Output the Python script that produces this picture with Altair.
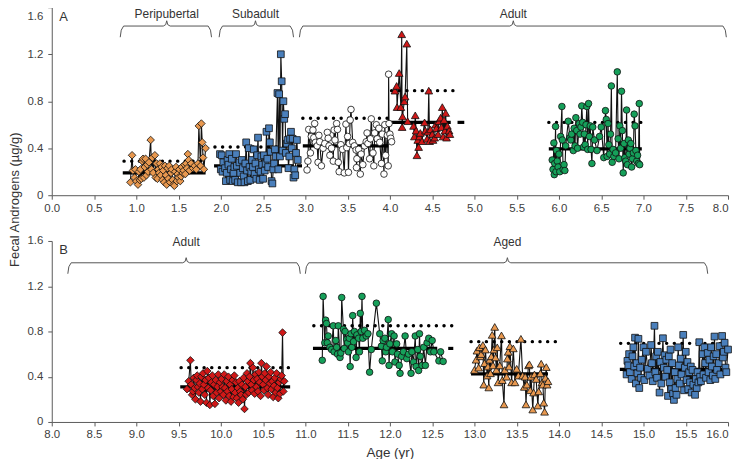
import altair as alt
import pandas as pd

FONT = "Liberation Sans"

orange_a = [(0.93,0.11),(0.95,0.34),(0.96,0.21),(0.98,0.15),(0.99,0.22),(1.00,0.12),(1.02,0.09),(1.03,0.20),(1.04,0.13),(1.05,0.22),(1.06,0.14),(1.07,0.29),(1.08,0.31),(1.09,0.15),(1.10,0.24),(1.11,0.31),(1.12,0.17),(1.13,0.26),(1.14,0.20),(1.15,0.28),(1.17,0.47),(1.18,0.22),(1.19,0.32),(1.20,0.19),(1.22,0.34),(1.23,0.15),(1.24,0.27),(1.25,0.14),(1.26,0.22),(1.27,0.19),(1.28,0.27),(1.29,0.17),(1.30,0.24),(1.31,0.13),(1.32,0.21),(1.33,0.11),(1.34,0.25),(1.35,0.17),(1.36,0.09),(1.37,0.23),(1.38,0.14),(1.39,0.25),(1.40,0.11),(1.41,0.19),(1.42,0.22),(1.43,0.13),(1.44,0.09),(1.45,0.08),(1.46,0.20),(1.47,0.24),(1.48,0.12),(1.49,0.18),(1.50,0.15),(1.51,0.22),(1.52,0.12),(1.53,0.16),(1.54,0.24),(1.55,0.19),(1.56,0.21),(1.57,0.26),(1.58,0.18),(1.59,0.27),(1.60,0.23),(1.61,0.35),(1.62,0.30),(1.63,0.21),(1.65,0.27),(1.67,0.23),(1.69,0.25),(1.71,0.22),(1.73,0.27),(1.74,0.59),(1.76,0.25),(1.77,0.61),(1.78,0.45),(1.79,0.32),(1.80,0.22),(1.82,0.40)]

blue_a = [(1.99,0.35),(2.00,0.22),(2.01,0.34),(2.02,0.20),(2.03,0.28),(2.05,0.23),(2.06,0.12),(2.07,0.19),(2.08,0.30),(2.09,0.26),(2.10,0.35),(2.11,0.13),(2.12,0.22),(2.13,0.31),(2.14,0.12),(2.15,0.19),(2.16,0.24),(2.17,0.13),(2.18,0.35),(2.19,0.25),(2.20,0.11),(2.22,0.28),(2.23,0.19),(2.24,0.11),(2.25,0.30),(2.26,0.23),(2.27,0.16),(2.28,0.11),(2.29,0.27),(2.30,0.45),(2.31,0.21),(2.32,0.12),(2.33,0.40),(2.34,0.24),(2.35,0.13),(2.36,0.20),(2.37,0.30),(2.38,0.24),(2.39,0.39),(2.40,0.18),(2.41,0.27),(2.42,0.14),(2.43,0.34),(2.44,0.49),(2.45,0.22),(2.46,0.13),(2.47,0.20),(2.48,0.33),(2.49,0.26),(2.50,0.14),(2.51,0.34),(2.52,0.21),(2.53,0.27),(2.54,0.54),(2.55,0.31),(2.56,0.24),(2.57,0.57),(2.58,0.45),(2.59,0.37),(2.60,0.12),(2.61,0.10),(2.62,0.22),(2.63,0.27),(2.64,0.39),(2.65,0.33),(2.67,0.87),(2.68,0.22),(2.69,0.86),(2.70,0.33),(2.71,1.20),(2.72,0.97),(2.73,0.38),(2.74,0.80),(2.75,0.65),(2.76,0.69),(2.77,0.36),(2.78,0.44),(2.79,0.47),(2.80,0.23),(2.81,0.33),(2.82,0.48),(2.83,0.54),(2.84,0.40),(2.85,0.48),(2.86,0.15),(2.87,0.22),(2.88,0.17),(2.89,0.36),(2.90,0.47),(2.91,0.30)]

white_a = [(3.02,0.215),(3.03,0.29),(3.04,0.56),(3.06,0.36),(3.07,0.50),(3.09,0.555),(3.10,0.49),(3.11,0.61),(3.12,0.45),(3.14,0.42),(3.15,0.28),(3.16,0.51),(3.17,0.455),(3.19,0.25),(3.21,0.40),(3.23,0.44),(3.26,0.535),(3.27,0.485),(3.28,0.42),(3.29,0.34),(3.31,0.40),(3.33,0.29),(3.34,0.555),(3.35,0.47),(3.37,0.61),(3.38,0.56),(3.39,0.28),(3.40,0.20),(3.42,0.43),(3.44,0.39),(3.46,0.19),(3.48,0.605),(3.49,0.405),(3.50,0.50),(3.51,0.195),(3.52,0.44),(3.53,0.64),(3.54,0.73),(3.56,0.45),(3.58,0.42),(3.60,0.385),(3.605,0.235),(3.61,0.31),(3.63,0.39),(3.65,0.18),(3.66,0.35),(3.68,0.26),(3.70,0.42),(3.72,0.455),(3.73,0.53),(3.74,0.44),(3.76,0.31),(3.77,0.48),(3.78,0.65),(3.80,0.36),(3.81,0.25),(3.82,0.53),(3.84,0.60),(3.85,0.48),(3.87,0.57),(3.88,0.45),(3.90,0.27),(3.91,0.52),(3.93,0.18),(3.94,0.60),(3.95,0.34),(3.97,0.51),(3.98,0.25),(3.985,1.03),(3.99,0.61),(4.00,0.52),(4.01,0.485),(4.02,0.455)]

red_a = [(4.06,0.89),(4.08,0.93),(4.085,0.75),(4.11,1.04),(4.13,0.75),(4.14,1.37),(4.145,0.58),(4.15,0.67),(4.17,0.80),(4.18,0.84),(4.20,1.29),(4.21,0.63),(4.28,0.59),(4.29,0.50),(4.30,0.68),(4.31,0.55),(4.32,0.34),(4.33,0.47),(4.34,0.41),(4.35,0.50),(4.36,0.53),(4.38,0.46),(4.41,0.62),(4.42,0.55),(4.44,0.48),(4.45,0.54),(4.46,0.89),(4.47,0.46),(4.48,0.56),(4.50,0.52),(4.51,0.47),(4.53,0.49),(4.54,0.60),(4.55,0.57),(4.57,0.52),(4.58,0.63),(4.60,0.66),(4.61,0.58),(4.62,0.75),(4.63,0.50),(4.64,0.64),(4.65,0.55),(4.66,0.70),(4.67,0.49),(4.68,0.59),(4.70,0.55),(4.71,0.52)]

green_a = [(5.92,0.30),(5.93,0.22),(5.94,0.445),(5.945,0.175),(5.95,0.27),(5.96,0.585),(5.965,0.20),(5.97,0.38),(5.98,0.29),(5.99,0.24),(6.00,0.35),(6.01,0.20),(6.02,0.50),(6.035,0.755),(6.04,0.47),(6.05,0.22),(6.06,0.26),(6.07,0.21),(6.08,0.42),(6.11,0.63),(6.13,0.49),(6.14,0.47),(6.15,0.52),(6.17,0.38),(6.18,0.57),(6.19,0.42),(6.20,0.66),(6.21,0.55),(6.22,0.40),(6.24,0.61),(6.25,0.52),(6.26,0.58),(6.27,0.76),(6.28,0.62),(6.29,0.41),(6.30,0.52),(6.31,0.43),(6.32,0.60),(6.33,0.755),(6.34,0.39),(6.35,0.78),(6.36,0.50),(6.37,0.59),(6.38,0.39),(6.39,0.27),(6.40,0.58),(6.42,0.47),(6.45,0.38),(6.48,0.50),(6.50,0.58),(6.53,0.32),(6.55,0.72),(6.56,0.645),(6.57,0.33),(6.58,0.61),(6.59,0.43),(6.60,0.35),(6.61,0.52),(6.62,0.93),(6.63,0.28),(6.64,0.39),(6.65,0.33),(6.67,0.36),(6.69,1.05),(6.70,0.48),(6.71,0.31),(6.72,0.59),(6.73,0.40),(6.74,0.885),(6.75,0.55),(6.76,0.19),(6.77,0.44),(6.78,0.32),(6.79,0.29),(6.80,0.725),(6.81,0.26),(6.82,0.47),(6.83,0.35),(6.84,0.40),(6.85,0.44),(6.86,0.24),(6.87,0.31),(6.88,0.36),(6.89,0.69),(6.90,0.59),(6.91,0.38),(6.92,0.29),(6.93,0.34),(6.94,0.27),(6.95,0.78),(6.955,0.26)]

red_b = [(9.60,0.29),(9.62,0.36),(9.64,0.545),(9.65,0.33),(9.66,0.24),(9.67,0.27),(9.68,0.39),(9.69,0.30),(9.70,0.20),(9.71,0.37),(9.72,0.41),(9.73,0.31),(9.74,0.26),(9.75,0.34),(9.76,0.18),(9.77,0.40),(9.78,0.29),(9.79,0.43),(9.80,0.33),(9.81,0.24),(9.82,0.37),(9.83,0.17),(9.84,0.45),(9.85,0.30),(9.86,0.39),(9.87,0.15),(9.88,0.28),(9.89,0.35),(9.90,0.41),(9.91,0.23),(9.92,0.33),(9.93,0.16),(9.94,0.37),(9.95,0.26),(9.96,0.31),(9.97,0.42),(9.98,0.21),(9.99,0.35),(10.00,0.27),(10.01,0.38),(10.02,0.31),(10.03,0.24),(10.04,0.42),(10.05,0.30),(10.06,0.19),(10.07,0.36),(10.08,0.27),(10.09,0.40),(10.10,0.23),(10.11,0.33),(10.12,0.18),(10.13,0.29),(10.14,0.37),(10.15,0.22),(10.16,0.41),(10.17,0.26),(10.18,0.35),(10.19,0.21),(10.20,0.30),(10.21,0.17),(10.22,0.36),(10.23,0.27),(10.24,0.24),(10.25,0.33),(10.26,0.20),(10.27,0.39),(10.28,0.115),(10.29,0.31),(10.30,0.24),(10.31,0.43),(10.32,0.36),(10.33,0.26),(10.34,0.40),(10.35,0.52),(10.36,0.33),(10.37,0.28),(10.38,0.48),(10.39,0.37),(10.40,0.25),(10.41,0.42),(10.42,0.31),(10.43,0.38),(10.44,0.27),(10.45,0.44),(10.46,0.35),(10.47,0.23),(10.48,0.52),(10.49,0.40),(10.50,0.33),(10.51,0.28),(10.52,0.43),(10.53,0.37),(10.54,0.49),(10.55,0.30),(10.56,0.24),(10.57,0.40),(10.58,0.34),(10.59,0.44),(10.60,0.29),(10.61,0.36),(10.62,0.22),(10.63,0.32),(10.64,0.39),(10.65,0.26),(10.66,0.43),(10.67,0.30),(10.68,0.21),(10.69,0.35),(10.70,0.25),(10.71,0.38),(10.72,0.41),(10.73,0.79),(10.74,0.27),(10.75,0.36)]

green_b = [(11.20,0.545),(11.21,1.11),(11.23,0.70),(11.24,0.90),(11.25,0.87),(11.26,0.70),(11.27,0.76),(11.29,0.66),(11.31,0.64),(11.33,0.85),(11.34,0.62),(11.36,0.72),(11.37,0.66),(11.38,0.60),(11.39,0.85),(11.41,0.57),(11.42,0.61),(11.43,1.10),(11.45,0.82),(11.46,0.65),(11.47,0.80),(11.49,0.73),(11.50,0.70),(11.51,0.62),(11.52,0.74),(11.53,0.49),(11.54,0.78),(11.55,0.66),(11.56,0.94),(11.57,0.71),(11.58,0.80),(11.60,0.57),(11.61,0.77),(11.63,0.74),(11.64,0.62),(11.65,0.96),(11.66,0.80),(11.67,1.11),(11.68,0.74),(11.70,0.81),(11.72,0.76),(11.74,0.78),(11.76,0.44),(11.78,0.64),(11.84,1.05),(11.88,0.78),(11.90,0.67),(11.91,0.54),(11.92,0.72),(11.94,0.74),(11.95,0.62),(11.96,0.66),(11.98,0.905),(11.99,0.50),(12.00,0.69),(12.02,0.78),(12.03,0.62),(12.05,0.76),(12.06,0.53),(12.08,0.69),(12.09,0.60),(12.11,0.50),(12.12,0.43),(12.14,0.58),(12.16,0.62),(12.18,0.76),(12.20,0.56),(12.22,0.60),(12.25,0.43),(12.26,0.62),(12.28,0.53),(12.30,0.76),(12.31,0.49),(12.33,0.64),(12.34,0.455),(12.35,0.78),(12.36,0.58),(12.38,0.50),(12.40,0.66),(12.42,0.50),(12.44,0.70),(12.46,0.74),(12.48,0.62),(12.50,0.72),(12.52,0.62),(12.58,0.54),(12.60,0.62),(12.63,0.535)]

orange_b = [(13.00,0.46),(13.02,0.55),(13.03,0.63),(13.05,0.48),(13.06,0.66),(13.07,0.58),(13.08,0.60),(13.10,0.68),(13.11,0.33),(13.12,0.52),(13.13,0.64),(13.15,0.41),(13.16,0.49),(13.17,0.305),(13.18,0.55),(13.19,0.43),(13.20,0.58),(13.21,0.77),(13.22,0.50),(13.23,0.64),(13.24,0.84),(13.25,0.57),(13.26,0.46),(13.27,0.66),(13.28,0.35),(13.30,0.50),(13.32,0.765),(13.33,0.37),(13.35,0.155),(13.36,0.46),(13.38,0.40),(13.39,0.56),(13.40,0.62),(13.41,0.49),(13.42,0.67),(13.44,0.35),(13.46,0.65),(13.48,0.35),(13.50,0.47),(13.52,0.41),(13.55,0.735),(13.57,0.41),(13.59,0.31),(13.60,0.40),(13.61,0.155),(13.62,0.33),(13.64,0.50),(13.65,0.51),(13.66,0.28),(13.67,0.40),(13.69,0.11),(13.70,0.26),(13.71,0.42),(13.73,0.38),(13.75,0.145),(13.76,0.27),(13.78,0.43),(13.79,0.515),(13.80,0.35),(13.81,0.33),(13.82,0.17),(13.83,0.09),(13.84,0.39),(13.85,0.485),(13.86,0.33),(13.87,0.36)]

blue_b = [(14.80,0.42),(14.81,0.54),(14.82,0.50),(14.83,0.60),(14.84,0.44),(14.86,0.38),(14.87,0.58),(14.88,0.66),(14.89,0.49),(14.90,0.745),(14.91,0.34),(14.92,0.52),(14.93,0.43),(14.94,0.735),(14.95,0.30),(14.96,0.48),(14.97,0.39),(14.98,0.55),(15.00,0.66),(15.01,0.37),(15.03,0.62),(15.05,0.47),(15.07,0.41),(15.09,0.68),(15.10,0.52),(15.11,0.36),(15.13,0.85),(15.14,0.44),(15.15,0.58),(15.16,0.39),(15.17,0.62),(15.19,0.26),(15.20,0.53),(15.21,0.34),(15.23,0.74),(15.24,0.48),(15.25,0.59),(15.26,0.40),(15.27,0.55),(15.28,0.46),(15.29,0.23),(15.30,0.58),(15.31,0.35),(15.32,0.64),(15.33,0.29),(15.34,0.52),(15.35,0.25),(15.36,0.195),(15.37,0.44),(15.38,0.30),(15.39,0.24),(15.40,0.38),(15.41,0.66),(15.42,0.50),(15.43,0.34),(15.44,0.56),(15.45,0.42),(15.47,0.77),(15.48,0.28),(15.49,0.48),(15.50,0.62),(15.51,0.37),(15.52,0.53),(15.53,0.29),(15.54,0.44),(15.55,0.35),(15.56,0.49),(15.57,0.26),(15.58,0.46),(15.59,0.33),(15.61,0.24),(15.62,0.38),(15.63,0.30),(15.64,0.44),(15.65,0.35),(15.66,0.705),(15.67,0.40),(15.68,0.36),(15.70,0.60),(15.71,0.42),(15.72,0.66),(15.73,0.52),(15.74,0.39),(15.76,0.61),(15.77,0.44),(15.78,0.55),(15.79,0.37),(15.80,0.66),(15.81,0.49),(15.82,0.41),(15.83,0.58),(15.84,0.755),(15.85,0.38),(15.86,0.60),(15.87,0.46),(15.89,0.52),(15.90,0.67),(15.91,0.42),(15.93,0.76),(15.94,0.57),(15.95,0.62),(15.96,0.70),(15.97,0.48),(15.98,0.44),(16.00,0.64)]

# points, shape, fill, mean segments (start, end, value), dotted (start, end, value)
panel_a_series = [
    (orange_a, "diamond", "#E8984F", [(0.84, 1.82, 0.19)], (0.855, 1.84, 0.29)),
    (blue_a, "square", "#4A7FBB", [(1.92, 2.86, 0.25), (2.90, 2.96, 0.25)], (1.93, 2.92, 0.41)),
    (white_a, "circle", "#FFFFFF", [(2.97, 3.98, 0.42)], (2.97, 4.00, 0.655)),
    (red_a, "triangle-up", "#D01818", [(4.00, 4.72, 0.62), (4.80, 4.88, 0.62)], (4.02, 4.82, 0.89)),
    (green_a, "circle", "#16A05A", [(5.88, 6.98, 0.395)], (5.88, 6.98, 0.62)),
]
panel_b_series = [
    (red_b, "diamond", "#D01818", [(9.52, 10.82, 0.31)], (9.53, 10.82, 0.48)),
    (green_b, "circle", "#16A05A", [(11.09, 12.56, 0.65), (12.69, 12.75, 0.65)], (11.10, 12.74, 0.85)),
    (orange_b, "triangle-up", "#E8984F", [(12.96, 13.87, 0.425)], (12.96, 13.96, 0.71)),
    (blue_b, "square", "#4A7FBB", [(14.72, 15.97, 0.465)], (14.73, 15.98, 0.695)),
]

# brace start, tip, end
braces_a = [(0.81, 1.36, 1.89), (1.98, 2.41, 2.86), (2.93, 5.46, 7.98)]
braces_b = [(8.19, 9.59, 10.94), (11.00, 13.39, 15.76)]
labels_a = [("Peripubertal", 1.36), ("Subadult", 2.41), ("Adult", 5.46)]
labels_b = [("Adult", 9.59), ("Aged", 13.39)]
x_ticks_a = [0, 0.5, 1, 1.5, 2, 2.5, 3, 3.5, 4, 4.5, 5, 5.5, 6, 6.5, 7, 7.5, 8]
x_ticks_b = [8, 8.5, 9, 9.5, 10, 10.5, 11, 11.5, 12, 12.5, 13, 13.5, 14, 14.5, 15, 15.5, 16]
y_ticks = [0, 0.2, 0.4, 0.6, 0.8, 1.0, 1.2, 1.4, 1.6]

AXIS_COL = "#5A5A5A"
TEXT_COL = "#404040"
Y_LABEL = "datum.value==0?'0':(round(datum.value*5)%2==0?format(datum.value,'.1f'):'')"
MAJOR = "round(datum.value*5)%2==0"


def make_panel(series, domain, ticks, h, braces, labels, letter, y_line, y_bottom, y_text, x_title, y_title):
    x_axis = alt.Axis(
        values=ticks, format=".1f", title=x_title, grid=False, domainColor=AXIS_COL, tickColor=AXIS_COL,
        tickSize=4, labelColor=TEXT_COL, labelFont=FONT, labelFontSize=11.5, labelPadding=3, labelFlush=False,
        labelAlign=alt.condition("datum.value==" + str(domain[1]), alt.value("right"), alt.value("center")),
        titleFont=FONT, titleFontSize=13.5, titleFontWeight="normal", titleColor="#333333",
        titlePadding=5,
    )
    axis_kw = {}
    if y_title:
        axis_kw = dict(titleX=-30, titleY=193, titleFont=FONT, titleFontSize=13,
                       titleFontWeight="normal", titleColor="#333333")
    top_test = "datum.value==1.6 && " + str(1 if letter == "A" else 0)
    y_axis = alt.Axis(
        values=y_ticks, labelExpr=Y_LABEL, title=y_title, grid=False, domainColor=AXIS_COL, tickColor=AXIS_COL,
        tickSize=alt.condition(MAJOR, alt.value(4), alt.value(2)),
        labelBaseline=alt.condition(top_test, alt.value("top"), alt.value("middle")),
        labelOffset=alt.condition(top_test, alt.value(3), alt.value(0)),
        labelColor=TEXT_COL, labelFont=FONT, labelFontSize=11.5, labelPadding=5, **axis_kw,
    )
    x = alt.X("x:Q", scale=alt.Scale(domain=domain, nice=False), axis=x_axis)
    y = alt.Y("y:Q", scale=alt.Scale(domain=[0, 1.6], nice=False), axis=y_axis)
    layers = []

    # brace lines
    brace_rows = []
    for i, (s, t, e) in enumerate(braces):
        pts = [(s, y_bottom), (s + 0.012, y_line - 0.035), (s + 0.04, y_line), (t - 0.04, y_line),
               (t - 0.012, y_line + 0.012), (t, y_line + 0.045), (t + 0.012, y_line + 0.012),
               (t + 0.04, y_line), (e - 0.04, y_line), (e - 0.012, y_line - 0.035), (e, y_bottom)]
        brace_rows += [{"x": a, "y": b, "b": i, "o": k} for k, (a, b) in enumerate(pts)]
    layers.append(alt.Chart(pd.DataFrame(brace_rows)).mark_line(color="#555555", strokeWidth=1, clip=False).encode(
        x=x, y=y, detail="b:N", order="o:Q"))

    text_rows = [{"x": v, "y": y_text, "t": t} for t, v in labels]
    layers.append(alt.Chart(pd.DataFrame(text_rows)).mark_text(font=FONT, fontSize=12, color="#333333").encode(
        x=alt.X("x:Q"), y=alt.Y("y:Q"), text="t:N"))
    layers.append(alt.Chart(pd.DataFrame([{"x": domain[0] + 0.14, "y": 1.52, "t": letter}])).mark_text(
        font=FONT, fontSize=13, color="#333333").encode(x=alt.X("x:Q"), y=alt.Y("y:Q"), text="t:N"))

    for pts, shape, fill, means, dotted in series:
        df = pd.DataFrame(pts, columns=["x", "y"])
        df["o"] = range(len(df))
        layers.append(alt.Chart(df).mark_line(color="#111111", strokeWidth=1.1).encode(x=alt.X("x:Q"), y=alt.Y("y:Q"), order="o:Q"))
        dd = pd.DataFrame([dotted], columns=["x", "x2", "y"])
        layers.append(alt.Chart(dd).mark_rule(color="#000000", strokeWidth=3.4, strokeCap="round", strokeDash=[0.1, 7.6]).encode(
            x=alt.X("x:Q"), x2="x2:Q", y=alt.Y("y:Q")))
        md = pd.DataFrame(means, columns=["x", "x2", "y"])
        layers.append(alt.Chart(md).mark_rule(color="#000000", strokeWidth=3.2).encode(
            x=alt.X("x:Q"), x2="x2:Q", y=alt.Y("y:Q")))
    for pts, shape, fill, means, dotted in series:
        df = pd.DataFrame(pts, columns=["x", "y"])
        size = {"diamond": 58, "square": 46, "circle": 44, "triangle-up": 60}[shape]
        layers.append(alt.Chart(df).mark_point(shape=shape, filled=True, fill=fill, stroke="#111111", strokeWidth=0.8,
                                               opacity=1, size=size, clip=False).encode(x=alt.X("x:Q"), y=alt.Y("y:Q")))
    return alt.layer(*layers).properties(width=680, height=h)


top = make_panel(panel_a_series, [0, 8], x_ticks_a, 189, braces_a, labels_a, "A", 1.44, 1.345, 1.54, None, "Fecal Androgens (µg/g)")
bottom = make_panel(panel_b_series, [8, 16], x_ticks_b, 182, braces_b, labels_b, "B", 1.407, 1.31, 1.59, "Age (yr)", None)

chart = alt.vconcat(top, bottom, spacing=46, bounds="flush").properties(
    padding={"left": 1, "top": -3, "right": -1, "bottom": -1}, background="white"
).configure_view(stroke=None)

chart.save("out.html", embed_options={"renderer": "svg", "actions": False})
